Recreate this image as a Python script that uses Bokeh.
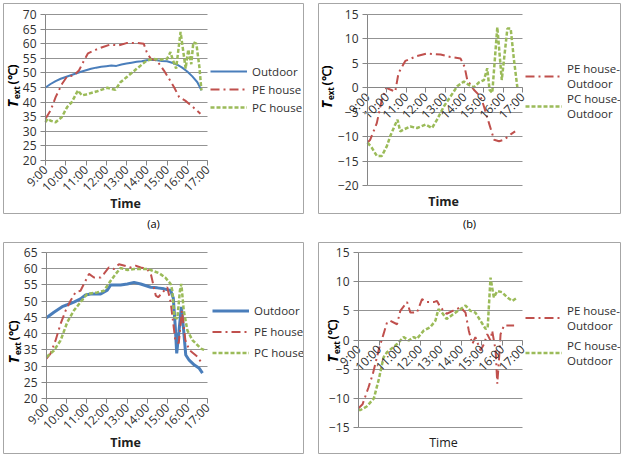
from math import pi
from bokeh.plotting import figure
from bokeh.models import FixedTicker, Label, Legend, LegendItem, Range1d, Title
from bokeh.layouts import column, row
from bokeh.embed import file_html
from bokeh.resources import INLINE

FONT = "Open Sans"
BLUE = "#4a7ebb"
RED = "#c0504d"
GREEN = "#9bbb59"

hour_ticks = [9, 10, 11, 12, 13, 14, 15, 16, 17]
hour_labels = ["9:00", "10:00", "11:00", "12:00", "13:00", "14:00", "15:00", "16:00", "17:00"]

# ---- (a) temperatures, first day
out_a_t = [9.0, 9.25, 9.5, 9.75, 10.0, 10.25, 10.5, 10.75, 11.0, 11.25, 11.5, 11.75, 12.0, 12.25, 12.5,
           12.75, 13.0, 13.25, 13.5, 13.75, 14.0, 14.25, 14.5, 14.75, 15.0, 15.25, 15.5, 15.75, 16.0,
           16.25, 16.5, 16.7]
out_a_v = [45.0, 46.2, 47.2, 48.0, 48.6, 49.2, 49.8, 50.4, 50.9, 51.4, 51.8, 52.1, 52.3, 52.5, 52.4,
           52.9, 53.2, 53.5, 53.8, 54.0, 54.3, 54.5, 54.3, 54.1, 54.0, 53.5, 52.8, 51.8, 50.5,
           48.8, 46.8, 44.0]
pe_a_t = [9.0, 9.25, 9.5, 9.82, 10.07, 10.4, 10.65, 10.9, 11.1, 11.47, 11.8, 12.2, 12.6, 13.0, 13.5,
          13.85, 14.0, 14.2, 14.5, 14.85, 15.1, 15.35, 15.6, 15.9, 16.25, 16.65]
pe_a_v = [34.3, 37.1, 41.7, 46.3, 48.8, 49.1, 50.8, 54.2, 56.7, 57.9, 58.8, 59.7, 59.4, 60.2, 60.3,
          60.0, 57.1, 54.8, 54.2, 50.8, 48.0, 45.1, 41.7, 40.5, 38.5, 36.0]
pc_a_t = [9.0, 9.1, 9.25, 9.5, 9.8, 10.07, 10.3, 10.6, 10.8, 11.0, 11.55, 12.05, 12.45, 12.7, 13.0,
          13.5, 14.0, 14.3, 14.6, 15.0, 15.17, 15.3, 15.45, 15.67, 15.8, 15.92, 16.05, 16.2, 16.3,
          16.45, 16.6, 16.7]
pc_a_v = [33.1, 34.3, 33.6, 33.1, 34.8, 38.3, 40.0, 44.0, 42.3, 42.6, 43.7, 44.9, 44.2, 46.8, 48.5,
          51.4, 54.2, 54.8, 54.5, 54.8, 57.1, 54.2, 51.5, 64.0, 57.5, 51.5, 58.0, 53.0, 60.5,
          60.0, 52.0, 44.0]

# ---- (b) differences, first day
pe_b_t = [9.0, 9.14, 9.31, 9.48, 9.74, 9.97, 10.26, 10.43, 10.6, 10.95, 11.56, 12.07, 12.77, 13.28,
          13.8, 14.01, 14.15, 14.49, 14.84, 15.01, 15.27, 15.53, 15.79, 16.05, 16.39, 16.62]
pe_b_v = [-11.2, -10.6, -8.9, -7.2, -2.4, 0.0, -0.5, -0.8, 3.0, 5.5, 6.5, 7.0, 6.8, 6.3,
          6.0, 4.3, 1.6, -0.4, -1.8, -3.8, -7.2, -10.6, -10.9, -10.6, -9.5, -8.9]
pc_b_t = [9.0, 9.22, 9.48, 9.74, 10.0, 10.17, 10.43, 10.55, 10.69, 10.87, 11.21, 11.56, 11.99, 12.33,
          12.59, 12.94, 13.28, 13.63, 13.97, 14.23, 14.49, 14.75, 15.01, 15.18, 15.3, 15.44, 15.7,
          15.93, 16.22, 16.39, 16.56, 16.74]
pc_b_v = [-11.2, -12.2, -13.9, -13.9, -11.9, -9.9, -7.5, -6.5, -8.9, -8.5, -7.9, -8.2, -7.5, -8.2,
          -6.5, -3.8, -1.8, 0.3, 1.3, 0.6, 0.1, 1.1, 1.6, 4.0, -0.4, -1.0, 12.4,
          1.6, 12.1, 12.1, 5.7, -0.1]

# ---- (c) temperatures, second day
out_c_t = [9.0, 9.37, 9.78, 10.03, 10.36, 10.69, 10.94, 11.19, 11.69, 12.02, 12.19, 12.68, 13.02,
           13.35, 13.68, 14.18, 14.51, 14.84, 15.17, 15.3, 15.4, 15.47, 15.58, 15.7, 15.8, 15.92,
           16.09, 16.35, 16.59, 16.75]
out_c_v = [44.9, 46.6, 48.3, 48.9, 49.7, 50.7, 51.9, 52.2, 52.2, 53.4, 55.0, 55.0, 55.3,
           55.8, 55.3, 54.3, 54.1, 53.8, 53.3, 51.0, 42.0, 33.9, 40.5, 48.2, 42.0, 33.4,
           31.8, 30.3, 29.3, 27.8]
pe_c_t = [9.0, 9.2, 9.45, 9.7, 9.95, 10.2, 10.44, 10.69, 11.11, 11.36, 11.69, 11.85, 12.1, 12.35,
          12.6, 13.18, 13.43, 13.68, 14.01, 14.2, 14.43, 14.55, 14.84, 15.0, 15.17, 15.4, 15.57,
          15.73, 15.9, 16.1, 16.5, 16.67]
pe_c_v = [32.3, 33.8, 37.9, 43.0, 47.1, 50.2, 52.7, 53.2, 58.4, 57.3, 57.3, 58.4, 60.4, 59.9,
          61.4, 60.4, 60.9, 60.4, 59.9, 58.0, 51.7, 51.2, 53.2, 54.3, 49.7, 38.0, 37.0,
          47.1, 38.0, 34.9, 32.9, 31.3]
pc_c_t = [9.0, 9.37, 9.7, 10.03, 10.36, 10.69, 11.02, 11.52, 11.85, 12.19, 12.44, 12.68, 13.02,
          13.35, 14.01, 14.18, 14.6, 14.9, 15.17, 15.25, 15.35, 15.5, 15.63, 15.7, 15.82, 16.0,
          16.25, 16.67, 16.83]
pc_c_v = [32.8, 34.8, 37.9, 43.5, 47.1, 49.7, 52.2, 52.7, 53.2, 56.3, 58.4, 60.2, 59.6,
          59.9, 59.9, 59.6, 58.6, 57.3, 55.3, 53.3, 45.1, 44.6, 53.3, 55.3, 47.1, 41.0,
          38.0, 35.4, 35.0]

# ---- (d) differences, second day
pe_d_t = [9.0, 9.2, 9.49, 9.7, 10.0, 10.22, 10.39, 10.55, 10.88, 11.04, 11.37, 11.53, 11.85, 12.1,
          12.34, 12.67, 12.83, 13.0, 13.3, 13.6, 13.98, 14.22, 14.38, 14.55, 14.7, 14.95, 15.12,
          15.28, 15.44, 15.52, 15.69, 15.77, 15.85, 15.93, 16.1, 16.59]
pe_d_v = [-11.7, -11.0, -8.1, -5.8, -1.5, 1.0, 3.0, 3.3, 2.7, 5.0, 6.5, 4.7, 4.7, 7.0,
          6.5, 6.5, 6.7, 5.6, 4.5, 5.0, 5.6, 4.7, 1.6, -0.7, 0.5, -1.8, -0.7,
          1.0, -0.1, 1.6, -1.8, -7.5, -3.5, 1.0, 2.5, 2.5]
pc_d_t = [9.0, 9.1, 9.4, 9.75, 10.0, 10.22, 10.39, 10.88, 11.2, 11.45, 11.69, 11.85, 12.18, 12.5,
          12.75, 12.9, 13.05, 13.3, 13.65, 13.98, 14.22, 14.46, 14.7, 14.95, 15.2, 15.3, 15.44,
          15.6, 15.77, 16.0, 16.26, 16.5, 16.75]
pc_d_v = [-12.0, -12.0, -11.4, -10.0, -6.6, -3.0, -2.1, -0.7, 0.5, -0.1, 0.5, 0.2, 1.6, 2.2,
          3.3, 5.3, 4.8, 3.6, 4.5, 5.3, 5.9, 5.0, 4.7, 3.3, 1.9, 2.0, 10.7,
          7.3, 8.4, 8.2, 7.3, 6.7, 7.3]

STYLE = {
    "out": dict(line_color=BLUE, line_width=2),
    "pe": dict(line_color=RED, line_width=2, line_dash="9 4 2 4"),
    "pc": dict(line_color=GREEN, line_width=2.5, line_dash="4 2"),
}


def panel(W, H, box, area, yr, yticks, fixed_zero, series, leg_xy, leg_h, leg_sp,
          caption, time_xy, time_bold, ylab, out_width=2):
    # box: outer chart border (canvas px); area: plot area (canvas px) for 9..17 x yr
    bl, bt, br, bb = box
    al, at, ar, ab = area
    ymin, ymax = yr
    kx = (ar - al) / 8.0
    ky = (ab - at) / float(ymax - ymin)
    xr = Range1d(9 - (al - bl) / kx, 17 + (br - ar) / kx)
    yrng = Range1d(ymin - (bb - ab) / ky, ymax + (at - bt) / ky)
    p = figure(width=W, height=H, x_range=xr, y_range=yrng,
               output_backend="svg", toolbar_location=None,
               min_border_left=bl, min_border_top=bt, min_border_right=W - br,
               min_border_bottom=H - bb)
    p.outline_line_color = "#a6a6a6"
    p.outline_line_width = 1
    p.background_fill_color = "white"
    p.border_fill_color = "white"
    p.xgrid.visible = False
    p.ygrid.ticker = FixedTicker(ticks=yticks)
    p.ygrid.grid_line_color = "#939393"
    p.ygrid.grid_line_width = 1
    p.ygrid.cross_bounds = (9, 17)
    for ax in (p.xaxis[0], p.yaxis[0]):
        ax.axis_line_color = "#868686"
        ax.major_tick_line_color = "#868686"
        ax.major_tick_in = 0
        ax.major_tick_out = 5
        ax.minor_tick_line_color = None
        ax.major_label_text_font = FONT
        ax.major_label_text_font_size = "12px"
        ax.major_label_text_color = "#303030"
        ax.axis_label = None
    p.yaxis.ticker = FixedTicker(ticks=yticks)
    p.yaxis.major_label_standoff = 4
    p.yaxis.fixed_location = 9
    p.yaxis.bounds = (ymin, ymax)
    p.xaxis.ticker = FixedTicker(ticks=hour_ticks)
    p.xaxis.major_label_overrides = {h: s for h, s in zip(hour_ticks, hour_labels)}
    p.xaxis.major_label_orientation = pi / 4
    p.xaxis.major_label_standoff = 2
    p.xaxis.bounds = (9, 17)
    p.xaxis.fixed_location = 0 if fixed_zero else ymin

    items = []
    for label, key, t, v in series:
        st = dict(STYLE[key])
        if key == "out":
            st["line_width"] = out_width
        r = p.line(t, v, **st)
        items.append(LegendItem(label=label, renderers=[r]))
    lx, ly = leg_xy
    leg = Legend(items=items, location=(lx - bl, bb - ly), border_line_color=None,
                 background_fill_alpha=0, padding=0, margin=0, spacing=leg_sp,
                 glyph_width=37, glyph_height=leg_h, label_height=leg_h, label_standoff=5,
                 label_text_font=FONT, label_text_font_size="11.5px",
                 label_text_color="#303030", label_text_line_height=1.3)
    p.add_layout(leg)

    tx, ty = time_xy
    p.add_layout(Label(x=tx - bl, y=bb - ty, x_units="screen", y_units="screen", text="Time",
                       text_align="center", text_baseline="middle", text_font=FONT,
                       text_font_size="12.5px", text_font_style="bold" if time_bold else "normal",
                       text_color="#202020"))
    cx, ybot = ylab
    sx, sy = cx - bl, bb - ybot
    common = dict(x_units="screen", y_units="screen", angle=pi / 2, text_align="left",
                  text_baseline="middle", text_font=FONT, text_color="#000000")
    p.add_layout(Label(x=sx, y=sy, text="T", text_font_size="14px",
                       text_font_style="bold italic", **common))
    p.add_layout(Label(x=sx + 3.5, y=sy + 8.5, text="ext", text_font_size="8px",
                       text_font_style="bold", **common))
    p.add_layout(Label(x=sx, y=sy + 23, text="(℃)", text_font_size="12px",
                       text_font_style="bold", **common))
    if caption is not None:
        p.add_layout(Title(text=caption, align="center", text_font=FONT, text_font_size="11px",
                           text_font_style="normal", text_color="#000000", standoff=0,
                           offset=0), "below")
    return p


pa = panel(310, 230, (3, 3, 303, 213), (45, 14, 207, 160), (20, 70), list(range(20, 71, 5)), False,
           [("Outdoor", "out", out_a_t, out_a_v), ("PE house", "pe", pe_a_t, pe_a_v),
            ("PC house", "pc", pc_a_t, pc_a_v)],
           (210, 116), 18, 0, "(a)", (125, 203), True, (12, 107))
pb = panel(313, 230, (8, 3, 310, 215), (57, 14, 212, 187), (-20, 15), list(range(-20, 16, 5)), True,
           [("PE house-\nOutdoor", "pe", pe_b_t, pe_b_v),
            ("PC house-\nOutdoor", "pc", pc_b_t, pc_b_v)],
           (215, 122.5), 30, 0, "(b)", (133, 203), True, (16, 110))
pc = panel(310, 233, (3, 12, 303, 223), (46, 22, 207, 168), (20, 65), list(range(20, 66, 5)), False,
           [("Outdoor", "out", out_c_t, out_c_v), ("PE house", "pe", pe_c_t, pe_c_v),
            ("PC house", "pc", pc_c_t, pc_c_v)],
           (212, 132.5), 21, 0, None, (125, 212), True, (13, 133), out_width=3)
pd_ = panel(313, 233, (8, 12, 310, 223), (48, 22, 212, 197), (-15, 15), list(range(-15, 16, 5)), True,
            [("PE house-\nOutdoor", "pe", pe_d_t, pe_d_v),
             ("PC house-\nOutdoor", "pc", pc_d_t, pc_d_v)],
            (215, 138), 31, 4, None, (133, 212), False, (22, 132))

layout = column(row(pa, pb), row(pc, pd_))
open("out.html", "w").write(file_html(layout, INLINE))
